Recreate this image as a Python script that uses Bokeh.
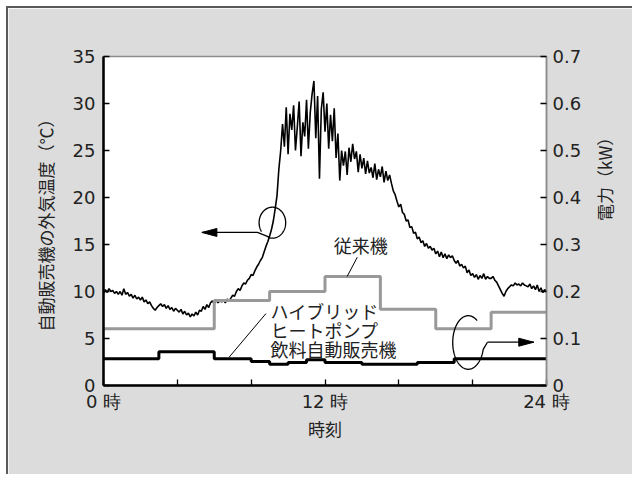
import math
import numpy as np
from bokeh.plotting import figure
from bokeh.models import Range1d, LinearAxis, FixedTicker
from bokeh.core.properties import value
from bokeh.embed import file_html
from bokeh.resources import INLINE

# ---------------- data ----------------
# outside air temperature of the vending machine (deg C), every 0.1 h from 0 to 24 h
temp_hours = [i / 10 for i in range(241)]
temp_c = [
    9.8, 10.2, 9.9, 10.3, 10.0, 10.1, 9.8, 10.0, 9.7, 10.0,
    9.6, 10.3, 9.7, 9.9, 9.5, 9.7, 9.3, 9.6, 9.2, 9.4,
    9.1, 9.4, 8.9, 9.1, 8.7, 8.9, 8.5, 8.2, 8.0, 8.3,
    8.5, 8.7, 8.4, 8.6, 8.2, 8.5, 8.1, 8.3, 7.9, 8.2,
    8.0, 7.8, 8.1, 7.6, 7.9, 7.5, 7.7, 7.3, 7.6, 7.4,
    7.8, 7.5, 8.0, 7.9, 8.4, 8.1, 8.6, 8.3, 8.8, 9.0,
    8.7, 9.1, 8.8, 9.0, 8.9, 9.1, 8.8, 9.2, 9.0, 9.3,
    9.6, 9.5, 10.0, 10.3, 10.1, 10.6, 10.9, 10.8, 11.2, 11.4,
    11.8, 11.7, 12.2, 12.6, 12.9, 13.3, 13.6, 14.2, 14.8, 15.3,
    15.9, 16.6, 17.5, 18.8, 20.2, 23.0, 25.0, 27.8, 25.4, 29.6,
    24.6, 28.9, 27.2, 29.8, 25.0, 27.5, 30.2, 24.4, 28.0, 26.5,
    30.4, 25.2, 29.0, 31.0, 32.4, 26.3, 30.8, 22.0, 29.4, 31.2,
    27.0, 30.0, 25.2, 28.8, 26.0, 29.5, 24.2, 26.8, 21.8, 25.0,
    23.4, 24.9, 22.4, 25.3, 23.8, 25.7, 24.1, 24.9, 22.7, 24.6,
    23.1, 24.2, 22.5, 23.9, 22.6, 23.2, 22.1, 23.6, 21.9, 23.0,
    22.2, 23.3, 21.6, 22.8, 21.8, 22.4, 21.5, 20.7, 20.3, 19.6,
    19.0, 19.3, 18.4, 18.2, 17.5, 17.6, 16.8, 16.9, 16.2, 16.3,
    15.6, 15.8, 15.2, 15.4, 14.8, 15.1, 14.6, 14.8, 14.4, 14.6,
    14.0, 14.3, 13.7, 14.2, 13.6, 14.0, 13.5, 13.9, 13.6, 13.8,
    13.3, 13.0, 13.3, 12.7, 12.9, 12.5, 12.7, 12.0, 12.3, 11.7,
    11.9, 11.5, 11.8, 11.3, 11.7, 11.4, 11.9, 11.3, 11.6, 11.4,
    11.4, 11.6, 11.2, 11.0, 10.6, 10.2, 9.8, 9.5, 10.0, 10.3,
    10.5, 10.7, 10.6, 10.9, 10.7, 10.8, 10.6, 10.9, 10.7, 10.6,
    10.5, 10.8, 10.3, 10.6, 10.2, 10.7, 10.0, 10.4, 9.9, 10.2,
    10.0,
]

# hybrid heat-pump vending machine power (kW), step changes at these hours
hybrid_hours = [0, 3, 6, 8, 9, 10, 11, 12, 14, 17, 19, 24]
hybrid_kw = [0.057, 0.072, 0.057, 0.051, 0.045, 0.049, 0.055, 0.049, 0.045, 0.049, 0.057, 0.057]

# conventional machine power (kW)
conv_hours = [0, 6, 9, 12, 15, 18, 21, 24]
conv_kw = [0.121, 0.181, 0.200, 0.232, 0.162, 0.121, 0.156, 0.156]

x_ticks = [0, 4, 8, 12, 16, 20, 24]
x_tick_labels = {0: "0 時", 4: "", 8: "", 12: "12 時", 16: "", 20: "", 24: "24 時"}
temp_ticks = [0, 5, 10, 15, 20, 25, 30, 35]
kw_ticks = [0, 0.1, 0.2, 0.3, 0.4, 0.5, 0.6, 0.7]
kw_tick_labels = {0: "0"}

x_label = "時刻"
left_label = "自動販売機の外気温度（℃）"
right_label = "電力（kW）"
conv_label = "従来機"
hybrid_label = ["ハイブリッド", "ヒートポンプ", "飲料自動販売機"]

# ---------------- annotation anchors ----------------
conv_text_pos = (13.94, 0.298)
conv_leader = ([13.75, 13.2], [0.273, 0.232])
hybrid_text_x = 9.05
hybrid_text_y = [0.159, 0.119, 0.077]
hybrid_leader = ([8.8, 6.8], [0.153, 0.060])

left_circle = dict(cx=9.15, cy=17.32, rx=0.72, ry=1.65)
left_arrow_path = ([5.33, 8.34, 8.98], [16.28, 16.28, 15.78])
right_ellipse = dict(cx=19.76, cy=0.0915, rx=0.84, ry=0.057)
right_arrow_path = ([20.8, 23.31], [0.0921, 0.0921])

FONT_NUM = "DejaVu Sans"
FONT_JP = "Noto Sans CJK JP"
TEXT_COL = "#222222"

W, H = 626, 468
ML, MR, MT, MB = 95, 88, 48, 91
px_per_h = (W - ML - MR) / 24.0
px_per_c = (H - MT - MB) / 35.0
px_per_kw = (H - MT - MB) / 0.7

p = figure(width=W, height=H, output_backend="svg", toolbar_location=None,
           x_range=Range1d(0, 24), y_range=Range1d(0, 35),
           min_border_left=ML, min_border_right=MR, min_border_top=MT, min_border_bottom=MB)
p.extra_y_ranges = {"power": Range1d(0, 0.7)}
p.styles = {"border-top": "2px solid #5a5a5a", "border-left": "2px solid #5a5a5a",
            "margin-top": "6px", "margin-left": "6px"}
p.border_fill_color = "#dcdcdc"
p.background_fill_color = "white"
p.outline_line_color = "#8c8c8c"
p.outline_line_width = 1.5
p.xgrid.visible = False
p.ygrid.visible = False

# x axis
xa = p.xaxis[0]
xa.ticker = FixedTicker(ticks=x_ticks)
xa.major_label_overrides = x_tick_labels
xa.axis_label = x_label

# left axis
ya = p.yaxis[0]
ya.ticker = FixedTicker(ticks=temp_ticks)
ya.axis_label = left_label

# right axis
ra = LinearAxis(y_range_name="power", ticker=FixedTicker(ticks=kw_ticks))
ra.major_label_overrides = kw_tick_labels
ra.axis_label = right_label
try:
    ra.axis_label_orientation = math.pi / 2
except Exception:
    pass
p.add_layout(ra, "right")

for ax in [xa, ya, ra]:
    ax.minor_tick_line_color = None
    ax.major_tick_in = 6
    ax.major_tick_out = 0
    ax.major_tick_line_color = "black"
    ax.major_tick_line_width = 1.3
    ax.major_label_text_font = FONT_NUM
    ax.major_label_text_font_size = "18px"
    ax.major_label_text_color = TEXT_COL
    ax.axis_label_text_font = FONT_JP
    ax.axis_label_text_font_size = "17px"
    ax.axis_label_text_font_style = "normal"
    ax.axis_label_text_color = TEXT_COL

xa.axis_line_width = 2.5
xa.axis_line_color = "black"
xa.major_label_standoff = 5
xa.axis_label_standoff = 1
ya.axis_line_width = 2.5
ya.axis_line_color = "black"
ya.major_label_standoff = 8
ya.axis_label_standoff = 12
ra.axis_line_width = 1.5
ra.axis_line_color = "#8c8c8c"
ra.major_label_standoff = 6
ra.axis_label_standoff = 20

# series
p.line(temp_hours, temp_c, line_color="black", line_width=1.6)
p.step(conv_hours, conv_kw, mode="after", y_range_name="power",
       line_color="#999999", line_width=3)
p.step(hybrid_hours, hybrid_kw, mode="after", y_range_name="power",
       line_color="black", line_width=3)

# annotations: labels and leaders
p.text(x=[conv_text_pos[0]], y=[conv_text_pos[1]], text=[conv_label], y_range_name="power",
       text_font=value(FONT_JP), text_font_size="18px", text_align="center",
       text_baseline="middle", text_color=TEXT_COL)
p.line(conv_leader[0], conv_leader[1], y_range_name="power", line_color="black", line_width=1)
p.text(x=[hybrid_text_x] * 3, y=hybrid_text_y, text=hybrid_label, y_range_name="power",
       text_font=value(FONT_JP), text_font_size="18px", text_align="left",
       text_baseline="middle", text_color=TEXT_COL)
p.line(hybrid_leader[0], hybrid_leader[1], y_range_name="power", line_color="black", line_width=1)

# left circle + arrow
th = np.radians(np.linspace(250, 575, 160))
p.line(left_circle["cx"] + left_circle["rx"] * np.cos(th),
       left_circle["cy"] + left_circle["ry"] * np.sin(th), line_color="black", line_width=1.3)
p.line(left_arrow_path[0], left_arrow_path[1], line_color="black", line_width=1.3)
tx, ty = left_arrow_path[0][0], left_arrow_path[1][0]
hl, hw = 15 / px_per_h, 4 / px_per_c
p.patch([tx, tx + hl, tx + hl], [ty, ty + hw, ty - hw], fill_color="black", line_color="black")

# right ellipse + arrow
th2 = np.radians(np.linspace(55, 345, 160))
ex = right_ellipse["cx"] + right_ellipse["rx"] * np.cos(th2)
ey = right_ellipse["cy"] + right_ellipse["ry"] * np.sin(th2)
p.line(list(ex) + [right_arrow_path[0][0]], list(ey) + [right_arrow_path[1][0]],
       y_range_name="power", line_color="black", line_width=1.3)
p.line(right_arrow_path[0], right_arrow_path[1], y_range_name="power", line_color="black", line_width=1.3)
tx2, ty2 = right_arrow_path[0][1], right_arrow_path[1][1]
hw2 = 4 / px_per_kw
p.patch([tx2, tx2 - hl, tx2 - hl], [ty2, ty2 + hw2, ty2 - hw2], y_range_name="power",
        fill_color="black", line_color="black")

open("out.html", "w").write(file_html(p, INLINE))
